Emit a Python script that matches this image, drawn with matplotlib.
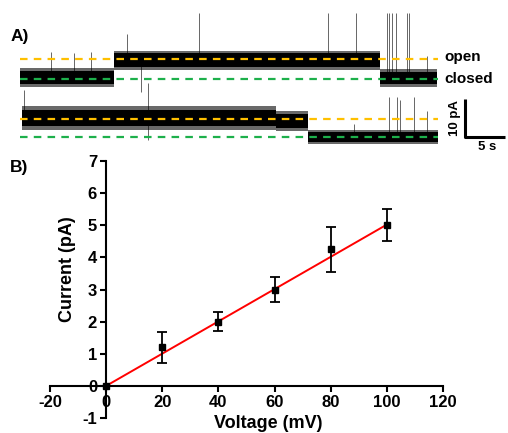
import numpy as np
import matplotlib
matplotlib.use("Agg")
import matplotlib.pyplot as plt

plt.rcParams['font.family'] = ['Liberation Sans', 'DejaVu Sans']
plt.rcParams['font.weight'] = 'bold'
plt.rcParams['axes.unicode_minus'] = False

# ----------------------------------
# Panel B data: I-V relation
voltage = [0, 20, 40, 60, 80, 100]
current = [0.0, 1.2, 2.0, 3.0, 4.25, 5.0]
current_err = [0.0, 0.48, 0.3, 0.4, 0.7, 0.5]
x_ticks = [-20, 0, 20, 40, 60, 80, 100, 120]
y_ticks = [-1, 0, 1, 2, 3, 4, 5, 6, 7]

# ----------------------------------
# Panel A data: single channel recordings (time in s, current in pA)
# each segment: (start, end, mean level, core half-width, fringe half-width)
trace1_offset = 0.0
trace1_open, trace1_closed = 5.3, 0.0
trace1_segments = [(0.0, 11.75, 0.4, 1.7, 2.5),
                   (11.75, 45.0, 5.0, 1.8, 2.5),
                   (45.0, 52.1, 0.3, 1.6, 2.3)]
# spikes: (time, low, high)
trace1_spikes = [(3.9, 2.0, 7.1), (6.75, 2.0, 6.8), (8.9, 2.0, 7.1),
                 (13.4, 5.0, 11.8), (15.1, 5.0, -3.4), (22.4, 5.0, 17.4),
                 (38.5, 5.0, 17.4), (42.0, 5.0, 17.4),
                 (45.9, 0.0, 17.4), (46.1, 0.0, 17.4), (46.5, 0.0, 17.4),
                 (47.0, 0.0, 17.4), (48.4, 0.0, 17.4), (48.6, 0.0, 17.4),
                 (50.9, 0.0, 6.0)]

trace2_offset = -15.3
trace2_open, trace2_closed = 4.7, 0.0
trace2_segments = [(0.25, 32.0, 5.1, 2.1, 3.1),
                   (32.0, 36.0, 4.3, 1.8, 2.6),
                   (36.0, 52.25, 0.1, 1.3, 1.9)]
trace2_spikes = [(0.5, 5.0, 12.4), (16.0, -0.8, 14.2), (41.75, 0.0, 3.5),
                 (46.1, 0.0, 10.5), (47.1, 0.0, 10.5), (47.5, 0.0, 9.7),
                 (49.25, -1.0, 10.5), (50.9, 0.0, 7.0)]

trace_end = 52.2
open_color = '#FFC000'
closed_color = '#1DB04B'

fig = plt.figure(figsize=(5.08, 4.33), dpi=100)

# ----------------------------------
# Panel A
axA = fig.add_axes([0.0, 0.642, 1.0, 0.358])
axA.set_xlim(-2.5, 61)
axA.set_ylim(-20, 20.8)
axA.axis('off')


def draw_trace(ax, offset, segments, spikes, open_level, closed_level):
    for t0, t1, level, core, fringe in segments:
        ax.fill_between([t0, t1], offset + level - fringe, offset + level + fringe,
                        color='#2a2a2a', alpha=0.7, lw=0)
        ax.fill_between([t0, t1], offset + level - core, offset + level + core,
                        color='black', lw=0)
    for t, lo, hi in spikes:
        ax.vlines(t, offset + lo, offset + hi, color='black', lw=0.7, alpha=0.6)
    ax.plot([0, trace_end], [offset + open_level] * 2, color=open_color,
            lw=1.6, dashes=(3.4, 2.8))
    ax.plot([0, trace_end], [offset + closed_level] * 2, color=closed_color,
            lw=1.6, dashes=(3.4, 2.8))


draw_trace(axA, trace1_offset, trace1_segments, trace1_spikes, trace1_open, trace1_closed)
draw_trace(axA, trace2_offset, trace2_segments, trace2_spikes, trace2_open, trace2_closed)

axA.text(53.0, 5.8, 'open', fontsize=11, fontweight='bold', va='center', ha='left')
axA.text(53.0, 0.1, 'closed', fontsize=11, fontweight='bold', va='center', ha='left')

# scale bar: 10 pA, 5 s
bar_t, bar_y = 55.6, -15.3
axA.plot([bar_t, bar_t, bar_t + 5], [bar_y + 10, bar_y, bar_y], color='black',
         lw=2.2, solid_capstyle='butt', clip_on=False)
axA.text(bar_t - 1.2, bar_y + 5, '10 pA', rotation=90, fontsize=9.5,
         fontweight='bold', ha='center', va='center')
axA.text(bar_t + 2.8, bar_y - 1.0, '5 s', fontsize=9.5, fontweight='bold',
         ha='center', va='top')

fig.text(0.02, 0.915, 'A)', fontsize=12.5, fontweight='bold', va='center')
fig.text(0.02, 0.614, 'B)', fontsize=12.5, fontweight='bold', va='center')

# ----------------------------------
# Panel B
axB = fig.add_axes([0.0984, 0.0346, 0.7736, 0.5935])
axB.set_xlim(-20, 120)
axB.set_ylim(-1, 7)

fit = np.polyfit(voltage, current, 1)
fit_x = np.array([voltage[0], voltage[-1]])
axB.plot(fit_x, np.polyval(fit, fit_x) - fit[1], color='#FF0000', lw=1.4, zorder=3)

axB.errorbar(voltage, current, yerr=current_err, fmt='s', color='black',
             markersize=5, capsize=3.5, elinewidth=1.3, capthick=1.3, zorder=4)

for side in ['top', 'right']:
    axB.spines[side].set_visible(False)
axB.spines['left'].set_position(('data', 0))
axB.spines['bottom'].set_position(('data', 0))
for side in ['left', 'bottom']:
    axB.spines[side].set_linewidth(1.5)

axB.set_xticks(x_ticks)
axB.set_yticks(y_ticks)
axB.tick_params(direction='out', length=4.5, width=1.5, labelsize=12, pad=2)
for lbl in axB.get_xticklabels() + axB.get_yticklabels():
    lbl.set_fontweight('bold')

# axis titles placed in figure pixels to match the reference
fig.text(268 / 508, 1 - 428 / 433, 'Voltage (mV)', fontsize=13, fontweight='bold',
         ha='center', va='baseline')
fig.text(67 / 508, 1 - 269 / 433, 'Current (pA)', fontsize=13, fontweight='bold',
         ha='center', va='center', rotation=90)

fig.savefig('out.png', dpi=100)
